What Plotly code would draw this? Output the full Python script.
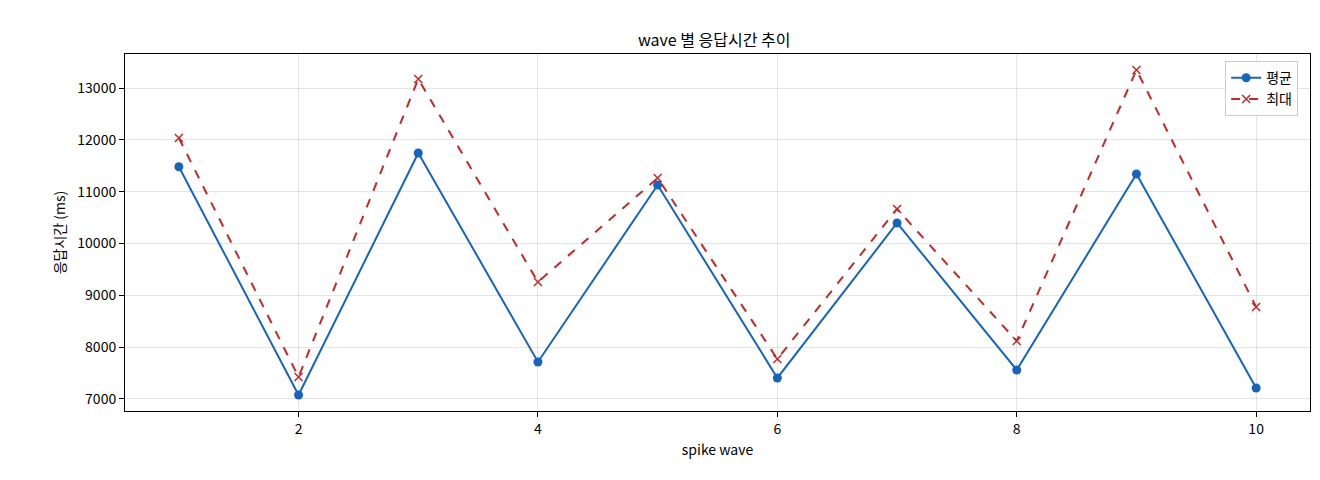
import plotly.graph_objects as go

waves = [1, 2, 3, 4, 5, 6, 7, 8, 9, 10]
avg_ms = [11480, 7077, 11746, 7714, 11129, 7405, 10396, 7560, 11341, 7212]
max_ms = [12036, 7424, 13174, 9257, 11264, 7772, 10666, 8119, 13348, 8775]

fig = go.Figure()
fig.add_trace(go.Scatter(x=waves, y=avg_ms, name="평균", mode="lines+markers",
                         line=dict(color="#1565c0", width=2), marker=dict(size=9, symbol="circle")))
fig.add_trace(go.Scatter(x=waves, y=max_ms, name="최대", mode="lines+markers",
                         line=dict(color="#c62828", width=2, dash="dash"), marker=dict(size=8, symbol="x-thin", line=dict(width=1.5, color="#c62828"))))

ax = dict(showline=True, mirror=True, linecolor="black", linewidth=1, ticks="outside", automargin=False,
          ticklen=5, tickcolor="black", showgrid=True, gridcolor="rgba(0,0,0,0.1)", zeroline=False,
          tickfont=dict(size=14))
fig.update_layout(
    width=1320, height=480, plot_bgcolor="white", paper_bgcolor="white",
    font=dict(family="Noto Sans CJK KR", size=14, color="black"),
    margin=dict(l=117, r=18, t=46, b=77),
    title=dict(text="wave 별 응답시간 추이", x=0.535, xanchor="center", y=0.945, font=dict(size=16)),
    xaxis=dict(ax, title=dict(text="spike wave", standoff=8, font=dict(size=14)), range=[0.55, 10.45], tickvals=[2, 4, 6, 8, 10]),
    yaxis=dict(ax, title=dict(text="응답시간 (ms)", standoff=8, font=dict(size=14)), range=[6768, 13656],
               tickvals=list(range(7000, 13001, 1000)), tickformat="d"),
    legend=dict(x=0.99, y=0.98, xanchor="right", yanchor="top", bordercolor="#cccccc", borderwidth=1, bgcolor="white"),
)
fig.write_html("out.html")
